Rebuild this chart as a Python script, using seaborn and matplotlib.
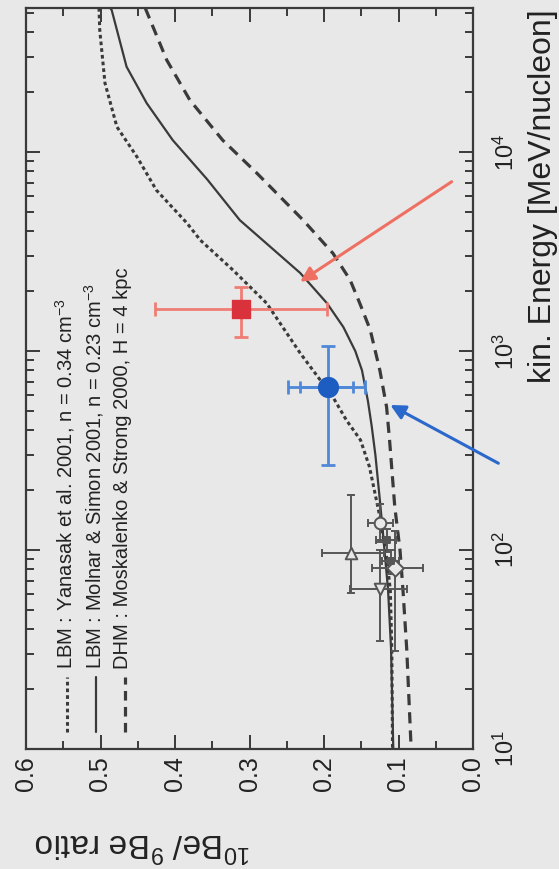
import matplotlib
matplotlib.use("Agg")
import matplotlib.pyplot as plt
import seaborn as sns
from matplotlib.ticker import FixedLocator, FixedFormatter, LogLocator, NullFormatter

# the whole chart is printed turned by 90 degrees:
# ratio runs along the bottom (0.6 left -> 0.0 right), energy runs up the right side

# model curves (ratio, kinetic energy in MeV/nucleon)
yanasak_ratio = [0.502, 0.501, 0.494, 0.478, 0.451, 0.425, 0.384, 0.366, 0.322, 0.277,
                 0.232, 0.188, 0.170, 0.151, 0.139, 0.125, 0.116, 0.111, 0.109, 0.108]
yanasak_energy = [53000, 41000, 22230, 13400, 9460, 6440, 4400, 3610, 2550, 1740,
                  977, 587, 450, 357, 262, 147, 92, 63, 32, 10]

molnar_ratio = [0.487, 0.485, 0.465, 0.438, 0.403, 0.357, 0.313, 0.272, 0.232, 0.196,
                0.174, 0.158, 0.149, 0.141, 0.136, 0.131, 0.125, 0.120, 0.114, 0.110, 0.107]
molnar_energy = [53000, 51760, 26850, 17620, 11480, 7310, 4550, 3340, 2470, 1740,
                 1320, 1000, 800, 560, 420, 300, 178, 112, 63, 32, 10]

dhm_ratio = [0.440, 0.411, 0.380, 0.336, 0.290, 0.228, 0.188, 0.165, 0.152, 0.138,
             0.125, 0.116, 0.112, 0.105, 0.098, 0.094, 0.089, 0.083]
dhm_energy = [53000, 28970, 18240, 11480, 7830, 4550, 3100, 2280, 1740, 1280,
              800, 524, 357, 165, 100, 63, 32, 10]

# earlier measurements (grey, low energy)
old_ratio = [0.164, 0.125, 0.105, 0.125, 0.116, 0.110]
old_energy = [97, 64, 81, 136, 112, 88]
old_ratio_lo = [0.120, 0.089, 0.067, 0.107, 0.104, 0.100]
old_ratio_hi = [0.203, 0.165, 0.136, 0.141, 0.130, 0.122]
old_energy_lo = [61, 35, 31, 110, 98, 76]
old_energy_hi = [189, 100, 125, 170, 128, 100]
old_markers = ["^", "v", "D", "o", "s", "s"]
old_filled = [False, False, False, False, True, True]

# blue point with two sets of ratio errors
blue_ratio, blue_energy = 0.194, 662
blue_ratio_err = (0.145, 0.248)
blue_ratio_err_inner = (0.161, 0.232)
blue_energy_err = (267, 1059)

# red point
red_ratio, red_energy = 0.311, 1620
red_ratio_err = (0.196, 0.427)
red_energy_err = (1180, 2104)

# arrows (tail -> head)
red_arrow = ((0.0286, 7100), (0.232, 2230))
blue_arrow = ((-0.034, 273), (0.111, 536))

legend_labels = [
    "LBM : Yanasak et al. 2001, n = 0.34 cm$^{-3}$",
    "LBM : Molnar & Simon 2001, n = 0.23 cm$^{-3}$",
    "DHM : Moskalenko & Strong 2000, H = 4 kpc",
]

BG = "#e8e8e8"
INK = "#3a3a3a"
GREY = "#555555"
RED = "#d9323c"
RED_LIGHT = "#ef7d74"
BLUE = "#1d5cc0"
BLUE_LIGHT = "#4f88d8"

sns.set_style("ticks")
plt.rcParams["font.family"] = ["Liberation Sans", "DejaVu Sans"]
plt.rcParams["mathtext.fontset"] = "custom"
plt.rcParams["mathtext.rm"] = "Liberation Sans"
plt.rcParams["mathtext.it"] = "Liberation Sans:italic"

W, H = 559, 869
fig = plt.figure(figsize=(W / 100, H / 100), dpi=100, facecolor=BG)
ax = fig.add_axes([26 / W, 120 / H, 447 / W, 741 / H], facecolor=BG)
ax.set_yscale("log")

styles = [
    (yanasak_ratio, yanasak_energy, (0, (1.2, 1.0)), 2.2),
    (molnar_ratio, molnar_energy, "-", 1.6),
    (dhm_ratio, dhm_energy, (0, (3.5, 2.2)), 2.3),
]
for r, e, ls, lw in styles:
    sns.lineplot(x=r, y=e, sort=False, estimator=None, ax=ax, color=INK,
                 linestyle=ls, linewidth=lw)

# grey low-energy points
xerr = [[v - lo for v, lo in zip(old_ratio, old_ratio_lo)],
        [hi - v for v, hi in zip(old_ratio, old_ratio_hi)]]
yerr = [[v - lo for v, lo in zip(old_energy, old_energy_lo)],
        [hi - v for v, hi in zip(old_energy, old_energy_hi)]]
ax.errorbar(old_ratio, old_energy, xerr=xerr, yerr=yerr, fmt="none",
            ecolor=GREY, elinewidth=1.4, capsize=3, capthick=1.4)
for r, e, m, filled in zip(old_ratio, old_energy, old_markers, old_filled):
    sns.scatterplot(x=[r], y=[e], marker=m, s=22 if filled else 70,
                    facecolor=GREY if filled else BG, edgecolor=GREY,
                    linewidth=1.4, ax=ax, zorder=4)

# blue point
ax.errorbar([blue_ratio], [blue_energy],
            xerr=[[blue_ratio - blue_ratio_err[0]], [blue_ratio_err[1] - blue_ratio]],
            yerr=[[blue_energy - blue_energy_err[0]], [blue_energy_err[1] - blue_energy]],
            fmt="none", ecolor=BLUE_LIGHT, elinewidth=2, capsize=5, capthick=2)
ax.errorbar([blue_ratio], [blue_energy],
            xerr=[[blue_ratio - blue_ratio_err_inner[0]], [blue_ratio_err_inner[1] - blue_ratio]],
            fmt="none", ecolor=BLUE_LIGHT, elinewidth=2, capsize=4, capthick=2)
sns.scatterplot(x=[blue_ratio], y=[blue_energy], marker="o", s=200, color=BLUE,
                edgecolor=BLUE, ax=ax, zorder=5)

# red point
ax.errorbar([red_ratio], [red_energy],
            xerr=[[red_ratio - red_ratio_err[0]], [red_ratio_err[1] - red_ratio]],
            yerr=[[red_energy - red_energy_err[0]], [red_energy_err[1] - red_energy]],
            fmt="none", ecolor=RED_LIGHT, elinewidth=2, capsize=5, capthick=2)
sns.scatterplot(x=[red_ratio], y=[red_energy], marker="s", s=150, color=RED,
                edgecolor=RED, ax=ax, zorder=5)

# arrows
for (tail, head), col in [(red_arrow, "#ee7062"), (blue_arrow, "#2a68cc")]:
    ax.annotate("", xy=head, xytext=tail, annotation_clip=False,
                arrowprops=dict(arrowstyle="-|>", color=col, lw=2.2,
                                mutation_scale=22, shrinkA=0, shrinkB=0))

# axes: ratio along bottom (reversed), energy on log scale, labels on the right
ax.set_xlim(0.6, 0.0)
ax.set_ylim(10, 53000)
ratio_ticks = [0.0, 0.1, 0.2, 0.3, 0.4, 0.5, 0.6]
ax.xaxis.set_major_locator(FixedLocator(ratio_ticks))
ax.xaxis.set_major_formatter(FixedFormatter([f"{t:.1f}" for t in ratio_ticks]))
ax.xaxis.set_minor_locator(FixedLocator([0.05, 0.15, 0.25, 0.35, 0.45, 0.55]))
ax.yaxis.set_major_locator(LogLocator(base=10, numticks=10))
ax.yaxis.set_minor_locator(LogLocator(base=10, subs=range(2, 10), numticks=20))
ax.yaxis.set_minor_formatter(NullFormatter())

for s in ax.spines.values():
    s.set_linewidth(1.6)
    s.set_color(INK)
ax.tick_params(which="both", direction="in", top=True, bottom=True, left=True, right=True,
               color=INK, width=1.4)
ax.tick_params(which="major", length=10)
ax.tick_params(which="minor", length=5.5)
ax.tick_params(axis="x", labelrotation=90, labelsize=18, pad=5, labelcolor="#222222")
ax.tick_params(axis="y", labelleft=False, labelright=True, labelrotation=90,
               labelsize=17, pad=15, labelcolor="#222222")
for lab in ax.get_yticklabels():
    lab.set_verticalalignment("center")
ax.set_xlabel("")
ax.set_ylabel("")

# hand-made legend, turned like everything else
leg_x = [0.092, 0.157, 0.222]
leg_styles = [((0, (1.2, 1.0)), 2.2), ("-", 1.6), ((0, (3.0, 2.0)), 2.3)]
for xpos, (ls, lw), text in zip(leg_x, leg_styles, legend_labels):
    ax.plot([xpos, xpos], [0.023, 0.097], transform=ax.transAxes, color=INK,
            linestyle=ls, linewidth=lw)
    ax.text(xpos - 0.005, 0.108, text, transform=ax.transAxes, rotation=90,
            rotation_mode="anchor", ha="left", va="center", fontsize=14.5, color="#222222")

fig.text(543 / W, 1 - 196 / H, "kin. Energy [MeV/nucleon]", rotation=90,
         ha="center", va="center", fontsize=23, color="#222222")
fig.text(143 / W, 1 - 843 / H, "$^{10}$Be/ $^{9}$Be ratio", rotation=180,
         ha="center", va="center", fontsize=24, color="#222222")

fig.savefig("out.png", dpi=100, facecolor=BG)
